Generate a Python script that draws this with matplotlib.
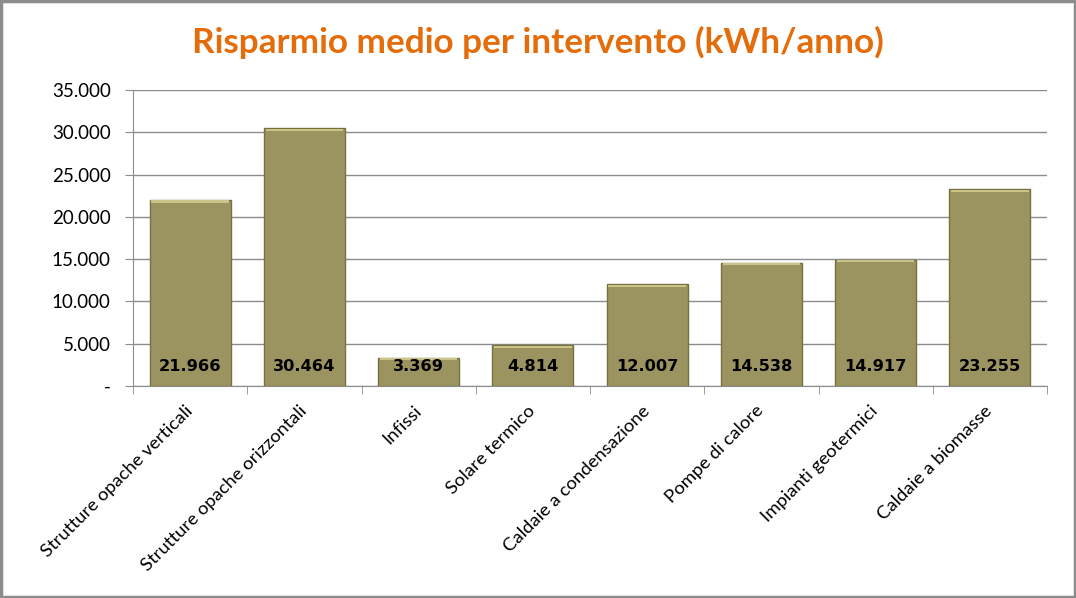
import numpy as np
import matplotlib
matplotlib.use('Agg')
import matplotlib.pyplot as plt
from matplotlib.patches import Rectangle

categorie = ['Strutture opache verticali', 'Strutture opache orizzontali', 'Infissi',
             'Solare termico', 'Caldaie a condensazione', 'Pompe di calore',
             'Impianti geotermici', 'Caldaie a biomasse']
risparmio = [21966, 30464, 3369, 4814, 12007, 14538, 14917, 23255]
yticks = [0, 5000, 10000, 15000, 20000, 25000, 30000, 35000]
ytick_labels = ['-', '5.000', '10.000', '15.000', '20.000', '25.000', '30.000', '35.000']


def fmt(v):
    return '{:,}'.format(v).replace(',', '.')


fig = plt.figure(figsize=(10.76, 5.98), dpi=100)
fig.patch.set_facecolor('white')
fig.patches.append(Rectangle((0.001, 0.001), 0.998, 0.997, transform=fig.transFigure,
                             fill=False, edgecolor='#8c8c8c', linewidth=2.5))

ax = fig.add_axes([133 / 1076, 1 - 386 / 598, (1047 - 133) / 1076, (386 - 90) / 598])
x = np.arange(len(categorie))
bar_color = '#9c9460'
ax.bar(x, risparmio, width=0.71, color=bar_color, edgecolor='#77703f', linewidth=1.0, zorder=3)
# bevel: riflesso chiaro in alto
ax.bar(x, [250] * len(x), bottom=np.array(risparmio) - 280, width=0.68,
       color='#cbc489', linewidth=0, zorder=4)

for xi, v in zip(x, risparmio):
    ax.text(xi, 2250, fmt(v), ha='center', va='center', fontsize=11.7,
            fontweight='bold', color='black', family='DejaVu Sans', zorder=5)

ax.set_xlim(-0.5, len(x) - 0.5)
ax.set_ylim(0, 35000)
ax.set_yticks(yticks)
ax.set_yticklabels(ytick_labels, fontsize=13.5, family='Lato')
ax.yaxis.grid(True, color='#8c8c8c', linewidth=1.0, zorder=0)
ax.set_axisbelow(True)

ax.set_xticks(x)
ax.set_xticklabels(categorie, rotation=45, ha='right', va='center', rotation_mode='anchor',
                   fontsize=13.3, family='Lato')
ax.set_xticks(np.arange(len(x) + 1) - 0.5, minor=True)
ax.tick_params(axis='x', which='major', length=0, pad=16)
ax.tick_params(axis='x', which='minor', length=6, color='#8c8c8c', direction='out')
ax.tick_params(axis='y', length=6, color='#8c8c8c', direction='out', pad=10)

for s in ['top', 'right']:
    ax.spines[s].set_visible(False)
ax.spines['left'].set_color('#8c8c8c')
ax.spines['bottom'].set_color('#8c8c8c')

fig.text(538 / 1076, 1 - 42 / 598, 'Risparmio medio per intervento (kWh/anno)',
         ha='center', va='center', fontsize=25.3, fontweight='bold', color='#e46c0a',
         family='Lato')

fig.savefig('out.png', dpi=100)
